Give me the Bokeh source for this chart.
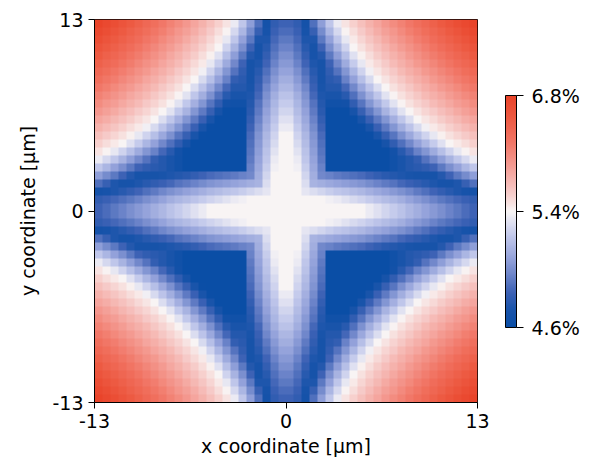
import numpy as np
from bokeh.plotting import figure
from bokeh.models import LinearColorMapper, ColorBar, FixedTicker, Range1d
from bokeh.embed import file_html
from bokeh.resources import INLINE

# ---- data ----
x_limits = [-13, 13]          # um
y_limits = [-13, 13]          # um
axis_ticks = [-13, 0, 13]
axis_tick_labels = ["-13", "0", "13"]
cbar_values = [4.6, 5.4, 6.8]                 # %, colour bar ticks (diverging, centre 5.4)
cbar_labels = ["4.6%", "5.4%", "6.8%"]

# One octant of the 48x48 map (values in %), row b = cell distance from the
# horizontal centre line, entries for a = b..23 (cell distance from vertical centre line).
# The map is mirror-symmetric in x, y and the diagonal.
octant = [
    [5.40,5.40,5.40,5.40,5.40,5.40,5.40,5.40,5.40,5.40,5.36,5.32,5.28,5.24,5.20,5.16,5.12,5.08,5.04,5.00,4.96,4.92,4.88,4.84],
    [5.40,5.40,5.40,5.40,5.38,5.36,5.33,5.30,5.27,5.24,5.21,5.18,5.15,5.12,5.08,5.04,5.00,4.96,4.92,4.89,4.86,4.83,4.80],
    [5.34,5.31,5.28,5.25,5.22,5.20,5.18,5.16,5.13,5.10,5.07,5.04,5.01,4.97,4.93,4.89,4.85,4.81,4.77,4.74,4.71,4.69],
    [5.14,5.12,5.10,5.08,5.06,5.04,5.02,4.99,4.96,4.93,4.90,4.86,4.83,4.80,4.77,4.74,4.71,4.70,4.74,4.82,4.89],
    [4.98,4.95,4.93,4.91,4.89,4.87,4.84,4.81,4.78,4.76,4.74,4.72,4.70,4.70,4.70,4.76,4.84,4.92,4.99,5.06],
    [4.60,4.60,4.60,4.60,4.60,4.60,4.60,4.60,4.66,4.72,4.76,4.78,4.80,4.84,4.92,5.00,5.07,5.15,5.22],
    [4.60,4.60,4.60,4.60,4.60,4.60,4.60,4.66,4.72,4.76,4.81,4.90,4.98,5.06,5.14,5.22,5.29,5.36],
    [4.60,4.60,4.60,4.60,4.60,4.60,4.67,4.77,4.86,4.95,5.03,5.11,5.19,5.27,5.35,5.42,5.49],
    [4.60,4.60,4.60,4.60,4.70,4.80,4.89,4.98,5.07,5.15,5.24,5.32,5.40,5.46,5.53,5.60],
    [4.60,4.61,4.72,4.82,4.91,5.01,5.10,5.19,5.27,5.35,5.43,5.50,5.57,5.63,5.70],
    [4.72,4.83,4.93,5.03,5.12,5.21,5.30,5.38,5.46,5.53,5.60,5.67,5.73,5.80],
    [4.93,5.03,5.13,5.22,5.31,5.40,5.48,5.55,5.62,5.69,5.76,5.83,5.89],
    [5.14,5.23,5.33,5.41,5.49,5.57,5.64,5.71,5.78,5.85,5.92,5.98],
    [5.33,5.42,5.50,5.58,5.65,5.73,5.80,5.87,5.94,6.00,6.07],
    [5.50,5.58,5.66,5.74,5.81,5.88,5.95,6.02,6.08,6.15],
    [5.66,5.74,5.82,5.89,5.96,6.03,6.10,6.17,6.23],
    [5.82,5.89,5.97,6.04,6.11,6.18,6.24,6.31],
    [5.97,6.04,6.12,6.18,6.25,6.32,6.38],
    [6.12,6.19,6.26,6.33,6.39,6.46],
    [6.26,6.33,6.40,6.46,6.53],
    [6.40,6.47,6.53,6.60],
    [6.53,6.60,6.67],
    [6.67,6.73],
    [6.80],
]

# ---- assemble the full map by mirroring ----
half = len(octant)
quad = np.zeros((half, half))
for b, row in enumerate(octant):
    for k, v in enumerate(row):
        a = b + k
        quad[b, a] = v
        quad[a, b] = v
idx = np.concatenate([np.arange(half - 1, -1, -1), np.arange(half)])
full = quad[np.ix_(idx, idx)]

# two-slope normalisation (centre value at middle of colour bar)
lo, mid, hi = cbar_values
norm = np.where(full < mid, (full - lo) / (mid - lo) * 0.5,
                0.5 + (full - mid) / (hi - mid) * 0.5)
norm = np.clip(norm, 0, 1)

# ---- colour map ----
stops = [
    (0.000, (10, 78, 166)),
    (0.075, (25, 84, 170)),
    (0.150, (61, 98, 181)),
    (0.225, (108, 132, 201)),
    (0.300, (150, 164, 219)),
    (0.400, (197, 203, 236)),
    (0.500, (248, 245, 245)),
    (0.550, (247, 218, 216)),
    (0.600, (246, 195, 192)),
    (0.700, (244, 155, 146)),
    (0.800, (241, 118, 102)),
    (0.900, (237, 91, 68)),
    (1.000, (233, 68, 42)),
]
palette = []
for i in range(256):
    t = i / 255
    for (t0, c0), (t1, c1) in zip(stops[:-1], stops[1:]):
        if t0 <= t <= t1:
            f = (t - t0) / (t1 - t0)
            c = [int(round(c0[k] + f * (c1[k] - c0[k]))) for k in range(3)]
            palette.append("#%02x%02x%02x" % tuple(c))
            break
mapper = LinearColorMapper(palette=palette, low=0, high=1)

FONT = "DejaVu Sans"
FS = "19px"

p = figure(width=589, height=467, output_backend="svg", toolbar_location=None,
           x_range=Range1d(*x_limits), y_range=Range1d(*y_limits),
           min_border_left=94, min_border_right=112, min_border_top=19, min_border_bottom=65)
p.image(image=[norm], x=x_limits[0], y=y_limits[0],
        dw=x_limits[1] - x_limits[0], dh=y_limits[1] - y_limits[0], color_mapper=mapper)

p.grid.visible = False
p.outline_line_color = "black"
p.outline_line_width = 1
p.background_fill_color = "white"
p.border_fill_color = "white"

for ax in (p.xaxis[0], p.yaxis[0]):
    ax.ticker = FixedTicker(ticks=axis_ticks)
    ax.major_label_overrides = {t: l for t, l in zip(axis_ticks, axis_tick_labels)}
    ax.minor_tick_line_color = None
    ax.major_tick_in = 0
    ax.major_tick_out = 6
    ax.major_tick_line_color = "black"
    ax.axis_line_color = "black"
    ax.major_label_text_font = FONT
    ax.major_label_text_font_size = FS
    ax.major_label_text_color = "black"
    ax.axis_label_text_font = FONT
    ax.axis_label_text_font_size = FS
    ax.axis_label_text_font_style = "normal"
    ax.axis_label_text_color = "black"
    ax.major_label_standoff = 5

p.xaxis.axis_label = "x coordinate [μm]"
p.yaxis.axis_label = "y coordinate [μm]"
p.xaxis.axis_label_standoff = 4
p.yaxis.axis_label_standoff = 10

cb_ticks = [0.0, 0.5, 1.0]
cb = ColorBar(color_mapper=mapper, ticker=FixedTicker(ticks=cb_ticks),
              major_label_overrides={t: l for t, l in zip(cb_ticks, cbar_labels)},
              width=11, height=232, location=(411, 75), padding=0, margin=0,
              bar_line_color="black", bar_line_width=1,
              major_tick_line_color="black", major_tick_in=0, major_tick_out=7,
              minor_tick_line_color=None, label_standoff=8,
              major_label_text_font=FONT, major_label_text_font_size=FS,
              major_label_text_color="black",
              background_fill_color=None, border_line_color=None)
p.add_layout(cb)

open("out.html", "w").write(file_html(p, INLINE))
